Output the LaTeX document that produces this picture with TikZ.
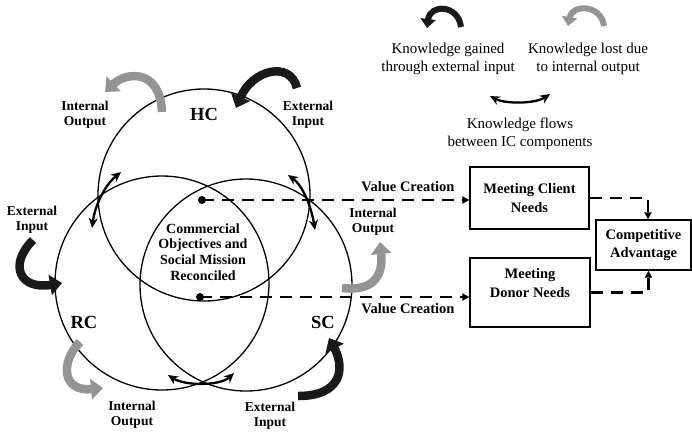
\documentclass[tikz,border=0pt]{standalone}
\usepackage{fontspec}
\setmainfont{Liberation Serif}
\usetikzlibrary{arrows.meta}
\begin{document}
\begin{tikzpicture}[x=1pt,y=-1pt,
  circ/.style={draw, circle, line width=1.3pt, minimum size=212pt, inner sep=0pt, outer sep=0pt},
  dot/.style={circle, fill=black, inner sep=0pt, minimum size=8pt},
  lbl/.style={font=\fontsize{13.5}{15}\selectfont\bfseries, align=center},
  big/.style={font=\fontsize{18.5}{20}\selectfont\bfseries},
  leg/.style={font=\fontsize{15}{18}\selectfont, align=center},
  boxtxt/.style={font=\fontsize{14.5}{18.5}\selectfont\bfseries, align=center},
  box/.style={draw, line width=1.3pt, rectangle, inner sep=0pt},
  ext/.style={line width=8.5pt, draw=black!90, -{Triangle[width=20pt,length=12pt]}},
  int/.style={line width=8.5pt, draw=black!42, -{Triangle[width=20pt,length=12pt]}},
  flow/.style={line width=2.3pt, {Stealth[length=10pt,width=9pt]}-{Stealth[length=10pt,width=9pt]}},
  dashline/.style={line width=2.2pt, dash pattern=on 12pt off 8pt, -{Triangle[length=7pt,width=7pt]}},
]
\useasboundingbox (0,0) rectangle (692,432);

% circles
\node[circ] (hc) at (204,195) {};
\node[circ, minimum size=214pt] (rc) at (162,283) {};
\node[circ] (sc) at (246,285) {};

% circle labels
\node[big] (hclbl) at (204,114) {HC};
\node[big] (rclbl) at (84,322) {RC};
\node[big] (sclbl) at (323,322) {SC};

% centre text and dots
\node[font=\fontsize{14}{15.7}\selectfont\bfseries, align=center] (centre) at (203,252)
  {Commercial\\Objectives and\\Social Mission\\Reconciled};
\node[dot] (d1) at (202,200) {};
\node[dot] (d2) at (200,297) {};

% input / output labels
\node[lbl] (io1) at (85,115) {Internal\\Output};
\node[lbl] (io2) at (308,115) {External\\Input};
\node[lbl] (io3) at (32,220) {External\\Input};
\node[lbl] (io4) at (373,222) {Internal\\Output};
\node[lbl] (io5) at (132,415) {Internal\\Output};
\node[lbl] (io6) at (270,416) {External\\Input};

% big curved arrows
\draw[int] (162,112) .. controls (160,68) and (126,72) .. (105,92);
\draw[ext] (297,88) .. controls (290,60) and (252,70) .. (236,108);
\draw[ext] (33,240) .. controls (8,265) and (20,290) .. (62,283);
\draw[int] (342,288) .. controls (377,292) and (383,272) .. (380,242);
\draw[int] (80,342) .. controls (60,362) and (62,392) .. (103,388);
\draw[ext] (298,396) .. controls (342,396) and (345,368) .. (329,338);

% flows between IC components
\draw[flow] (92,228) .. controls (95,205) and (105,185) .. (121,172);
\draw[flow] (288,175) .. controls (302,185) and (311,205) .. (315,230);
\draw[flow] (168,375) .. controls (185,386) and (220,386) .. (234,373);

% legend
\draw[ext, line width=6pt, -{Triangle[width=15pt,length=9pt]}] (461,27) .. controls (458,4) and (430,4) .. (427,28);
\draw[int, line width=6pt, -{Triangle[width=15pt,length=9pt]}] (604,26) .. controls (601,4) and (572,4) .. (568,26);
\draw[flow] (490,96) .. controls (505,104) and (535,104) .. (550,94);
\node[leg] (leg1) at (448,59) {Knowledge gained\\through external input};
\node[leg] (leg2) at (588,59) {Knowledge lost due\\to internal output};
\node[leg] (leg3) at (520,134) {Knowledge flows\\between IC components};

% boxes
\node[box, boxtxt, minimum width=119pt, minimum height=62pt] (client) at (529.5,198) {Meeting Client\\Needs};
\node[box, minimum width=120pt, minimum height=69pt] (donor) at (530,292.5) {};
\node[boxtxt] (donortxt) at (530,283) {Meeting\\Donor Needs};
\node[box, boxtxt, minimum width=95pt, minimum height=50pt] (comp) at (643.5,245) {Competitive\\Advantage};

% value creation
\node[boxtxt] (vc1) at (408,187) {Value Creation};
\node[boxtxt] (vc2) at (408,309) {Value Creation};
\draw[dashline] (d1.center) -- (d1 -| client.west);
\draw[dashline] (d2.center) -- (d2 -| donor.west);
\draw[dashline] (client.east) -| ([xshift=4.5pt]comp.north);
\draw[dashline] (donor.east) -| ([xshift=5pt]comp.south);
\end{tikzpicture}
\end{document}
